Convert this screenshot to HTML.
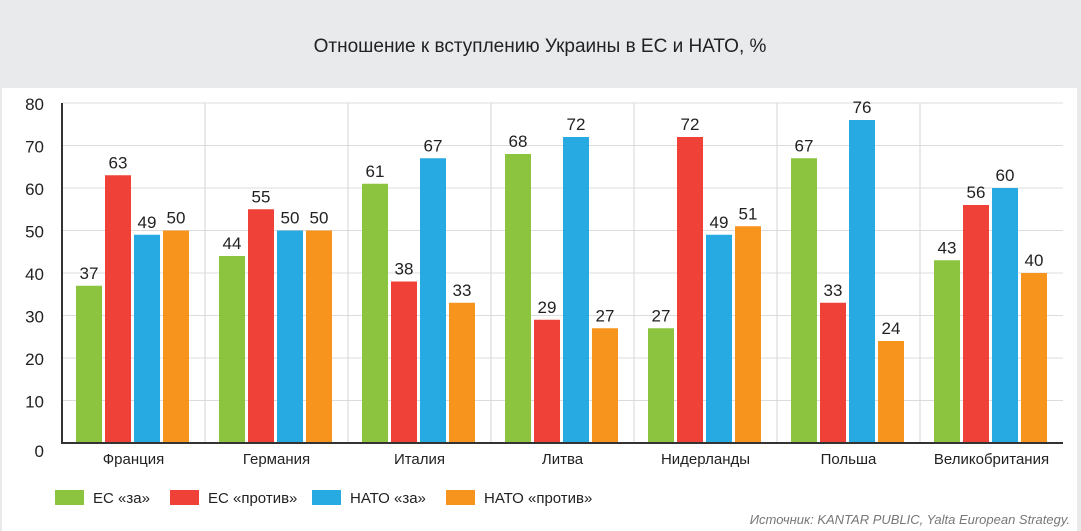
<!DOCTYPE html>
<html><head><meta charset="utf-8"><style>
body{margin:0;width:1081px;height:531px;background:#e9eaec;font-family:"Liberation Sans","Noto Sans CJK JP",sans-serif;overflow:hidden}
#card{position:absolute;left:2px;top:88px;width:1075px;height:443px;background:#fff}
text{font-family:"Liberation Sans","Noto Sans CJK JP",sans-serif}
</style></head><body>
<div id="card"></div>
<svg id="chart" width="1081" height="531" style="position:absolute;left:0;top:0">
<text x="540" y="52" text-anchor="middle" font-size="19" fill="#222">Отношение к вступлению Украины в ЕС и НАТО, %</text>
<g id="grid"></g><g id="bars"></g><g id="axes"></g><g id="legend"></g>
<text x="1070" y="524" text-anchor="end" font-size="13" font-style="italic" fill="#777">Источник: KANTAR PUBLIC, Yalta European Strategy.</text>
</svg>
<script>
const categories=["Франция","Германия","Италия","Литва","Нидерланды","Польша","Великобритания"];
const euFor=[37,44,61,68,27,67,43];
const euAgainst=[63,55,38,29,72,33,56];
const natoFor=[49,50,67,72,49,76,60];
const natoAgainst=[50,50,33,27,51,24,40];
const seriesNames=["ЕС «за»","ЕС «против»","НАТО «за»","НАТО «против»"];
const yTicks=[0,10,20,30,40,50,60,70,80];
const colors=["#8cc43f","#ef4137","#27a9e1","#f7941d"];
const ns="http://www.w3.org/2000/svg";
const x0=62,x1=1063,y0=443,y1=103,yMax=80;
const gw=(x1-x0)/categories.length;
const Y=v=>y0-(v/yMax)*(y0-y1);
function mk(tag,attrs,parent){const e=document.createElementNS(ns,tag);for(const k in attrs)e.setAttribute(k,attrs[k]);parent.appendChild(e);return e;}
const grid=document.getElementById('grid'),bars=document.getElementById('bars'),axes=document.getElementById('axes'),legend=document.getElementById('legend');
yTicks.forEach(t=>{
  if(t>0){const l=mk('line',{x1:x0,x2:x1,y1:Y(t),y2:Y(t),stroke:'#dcdcdc','stroke-width':1},grid);
  
  }
  const tx=mk('text',{x:44,y:Y(t)+7+(t===0?7:0),'text-anchor':'end','font-size':17,fill:'#222'},axes);tx.textContent=t;
  
  
});
for(let i=1;i<categories.length;i++){const l=mk('line',{x1:x0+gw*i,x2:x0+gw*i,y1:y1,y2:y0,stroke:'#d6d6d6','stroke-width':1},grid);
  
  }
const series=[euFor,euAgainst,natoFor,natoAgainst];
categories.forEach((c,i)=>{
  const gx=x0+gw*i;
  series.forEach((s,j)=>{
    const bx=gx+14+j*29,v=s[i];
    const r=mk('rect',{x:bx,y:Y(v),width:26,height:y0-Y(v),fill:colors[j]},bars);
    
    
    const t=mk('text',{x:bx+13,y:Y(v)-7,'text-anchor':'middle','font-size':17,fill:'#222'},bars);t.textContent=v;
    
    
  });
  const t=mk('text',{x:gx+gw/2,y:464,'text-anchor':'middle','font-size':15,fill:'#222'},axes);t.textContent=c;
  
  
});
const ya=mk('line',{x1:x0,x2:x0,y1:y1,y2:y0+1,stroke:'#333','stroke-width':2},axes);


const xa=mk('line',{x1:x0,x2:x1,y1:y0,y2:y0,stroke:'#333','stroke-width':2},axes);


const lx=[55,170,312,446];
seriesNames.forEach((n,j)=>{
  const r=mk('rect',{x:lx[j],y:490,width:29,height:15,fill:colors[j]},legend);
  
  
  const t=mk('text',{x:lx[j]+38,y:503,'font-size':15,fill:'#222'},legend);t.textContent=n;
  
  
});
</script>
</body></html>
